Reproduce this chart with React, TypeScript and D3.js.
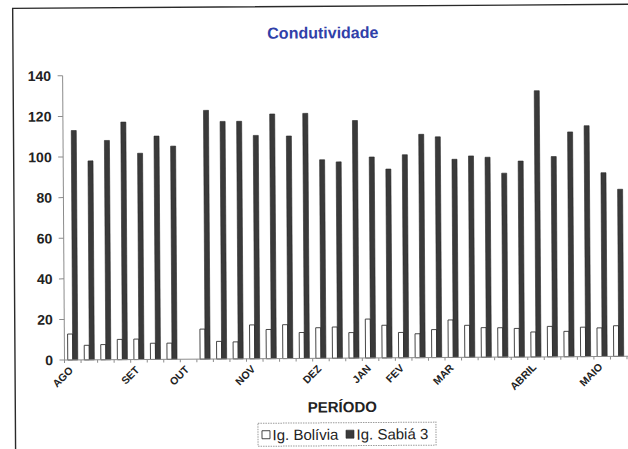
import React from "react";
import * as d3 from "d3";

// Period labels along the x axis (one slot per sampling campaign; blank slots carry no label)
const categories: string[] = [
  "AGO", "", "", "", "SET", "", "", "OUT", "", "", "", "NOV", "", "", "", "DEZ",
  "", "", "JAN", "", "FEV", "", "", "MAR", "", "", "", "", "ABRIL", "", "", "",
  "MAIO", "",
];

// Conductivity, Ig. Bolívia
const bolivia: (number | null)[] = [
  12.8, 7.2, 7.5, 10.0, 10.1, 8.0, 8.0, null, 14.8, 8.7, 8.4, 16.7, 14.4, 16.7,
  12.8, 15.1, 15.4, 12.6, 19.2, 16.1, 12.5, 11.8, 13.8, 18.5, 15.8, 14.6, 14.5,
  14.1, 12.3, 15.0, 12.5, 14.5, 14.1, 15.1,
];

// Conductivity, Ig. Sabiá 3
const sabia: (number | null)[] = [
  113, 98, 108, 117, 101.6, 110, 105, null, 122.5, 117, 117, 110, 120.5, 109.6,
  120.7, 97.8, 96.7, 117, 99, 93, 100, 110, 108.7, 97.6, 99.2, 98.5, 90.6, 96.5,
  131.1, 98.6, 110.7, 113.7, 90.5, 82.3,
];

const yTicks: number[] = [0, 20, 40, 60, 80, 100, 120, 140];

const seriesNames = ["Ig. Bolívia", "Ig. Sabiá 3"];

const W = 628;
const H = 449;
const FONT = "'Liberation Sans', Arial, Helvetica, sans-serif";

export default function App() {
  const x = d3
    .scaleBand<number>()
    .domain(d3.range(categories.length))
    .range([64.5, 627])
    .paddingInner(0)
    .paddingOuter(0);

  const inner = d3
    .scaleBand<string>()
    .domain(seriesNames)
    .range([0, x.bandwidth()])
    .paddingInner(0)
    .paddingOuter(0.65);

  const y = d3.scaleLinear().domain([0, 140]).range([360, 75.7]);

  const y0 = y(0);
  const axisColor = "#8c8c8c";

  return (
    <svg
      width={W}
      height={H}
      viewBox={`0 0 ${W} ${H}`}
      style={{ position: "absolute", left: 0, top: 0, background: "#fff" }}
    >
      <rect x={0} y={0} width={W} height={H} fill="#fff" />
      <g transform="rotate(-0.38 75 360)">
        {/* chart frame */}
        <path d={`M15,470 L15,8 L660,8`} fill="none" stroke="#2a2a2a" strokeWidth={1.4} />

        {/* title */}
        <text
          x={325}
          y={40}
          textAnchor="middle"
          fontFamily={FONT}
          fontWeight="bold"
          fontSize={16}
          fill="#3040a8"
        >
          Condutividade
        </text>

        {/* y axis */}
        <line x1={64.5} x2={64.5} y1={y(140)} y2={y0} stroke={axisColor} strokeWidth={1} />
        {yTicks.map((t) => (
          <g key={t}>
            <line x1={59.5} x2={64.5} y1={y(t)} y2={y(t)} stroke={axisColor} strokeWidth={1} />
            <text
              x={53}
              y={y(t)}
              dy="0.36em"
              textAnchor="end"
              fontFamily={FONT}
              fontWeight="bold"
              fontSize={14}
              fill="#222"
            >
              {t}
            </text>
          </g>
        ))}

        {/* bars */}
        {categories.map((_, i) => {
          const gx = x(i) as number;
          const b = bolivia[i];
          const s = sabia[i];
          return (
            <g key={i}>
              {b != null && (
                <rect
                  x={gx + (inner("Ig. Bolívia") as number)}
                  y={y(b)}
                  width={inner.bandwidth()}
                  height={y0 - y(b)}
                  fill="#fff"
                  stroke="#333"
                  strokeWidth={0.9}
                />
              )}
              {s != null && (
                <rect
                  x={gx + (inner("Ig. Sabiá 3") as number)}
                  y={y(s)}
                  width={inner.bandwidth()}
                  height={y0 - y(s)}
                  fill="#3a3a3a"
                  stroke="#262626"
                  strokeWidth={0.6}
                />
              )}
            </g>
          );
        })}

        {/* x axis */}
        <line x1={64.5} x2={628} y1={y0} y2={y0} stroke={axisColor} strokeWidth={1} />
        {d3.range(categories.length + 1).map((i) => {
          const tx = 64.5 + i * x.step();
          return (
            <line key={i} x1={tx} x2={tx} y1={y0} y2={y0 + 3} stroke={axisColor} strokeWidth={1} />
          );
        })}
        {categories.map((c, i) => {
          if (!c) return null;
          const lx = (x(i) as number) + x.bandwidth() / 2 + 1;
          const ly = 371;
          return (
            <text
              key={i}
              x={lx}
              y={ly}
              transform={`rotate(-45 ${lx} ${ly})`}
              textAnchor="end"
              fontFamily={FONT}
              fontWeight="bold"
              fontSize={10.5}
              fill="#222"
            >
              {c}
            </text>
          );
        })}

        {/* axis title */}
        <text
          x={342}
          y={414}
          textAnchor="middle"
          fontFamily={FONT}
          fontWeight="bold"
          fontSize={15}
          fill="#222"
        >
          PERÍODO
        </text>

        {/* legend */}
        <g>
          <rect
            x={257.5}
            y={424.5}
            width={178}
            height={23}
            fill="#fff"
            stroke="#9a9a9a"
            strokeWidth={1}
            strokeDasharray="1.5 1"
          />
          <rect x={261.5} y={432} width={8} height={8} fill="#fff" stroke="#333" strokeWidth={0.9} />
          <text x={272} y={441.5} fontFamily={FONT} fontSize={15} fill="#222">
            {seriesNames[0]}
          </text>
          <rect x={345.5} y={432} width={8} height={8} fill="#3a3a3a" stroke="#262626" strokeWidth={0.6} />
          <text x={356} y={441.5} fontFamily={FONT} fontSize={15} fill="#222">
            {seriesNames[1]}
          </text>
        </g>
      </g>
    </svg>
  );
}
